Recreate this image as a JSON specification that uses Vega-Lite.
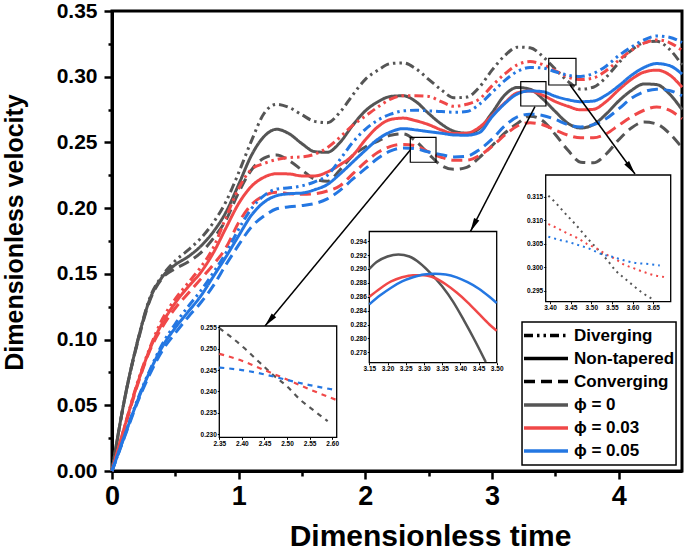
{
  "$schema": "https://vega.github.io/schema/vega-lite/v6.json",
  "width": 570,
  "height": 460,
  "autosize": {"type": "none"},
  "padding": {"left": 112, "top": 11, "right": 3, "bottom": 80},
  "background": "white",
  "config": {
    "view": {"stroke": "black", "strokeWidth": 3},
    "font": "Liberation Sans",
    "axis": {"grid": false, "labelFont": "Liberation Sans", "titleFont": "Liberation Sans", "labelColor": "black", "titleColor": "black", "tickColor": "black", "domainColor": "black"}
  },
  "datasets": {
    "main": [
      {"t":0.0,"D0":0,"N0":0,"C0":0,"D3":0,"N3":0,"C3":0,"D5":0,"N5":0,"C5":0},
      {"t":0.1,"D0":0.055,"N0":0.055,"C0":0.055,"D3":0.034,"N3":0.034,"C3":0.033,"D5":0.027,"N5":0.027,"C5":0.026},
      {"t":0.2,"D0":0.098,"N0":0.098,"C0":0.097,"D3":0.067,"N3":0.066,"C3":0.065,"D5":0.054,"N5":0.053,"C5":0.052},
      {"t":0.3,"D0":0.132,"N0":0.131,"C0":0.130,"D3":0.094,"N3":0.093,"C3":0.092,"D5":0.077,"N5":0.076,"C5":0.074},
      {"t":0.4,"D0":0.149,"N0":0.148,"C0":0.147,"D3":0.116,"N3":0.113,"C3":0.110,"D5":0.097,"N5":0.095,"C5":0.092},
      {"t":0.5,"D0":0.160,"N0":0.157,"C0":0.154,"D3":0.131,"N3":0.128,"C3":0.124,"D5":0.112,"N5":0.109,"C5":0.105},
      {"t":0.6,"D0":0.168,"N0":0.163,"C0":0.159,"D3":0.143,"N3":0.140,"C3":0.135,"D5":0.125,"N5":0.121,"C5":0.117},
      {"t":0.7,"D0":0.177,"N0":0.171,"C0":0.166,"D3":0.155,"N3":0.151,"C3":0.146,"D5":0.137,"N5":0.133,"C5":0.128},
      {"t":0.8,"D0":0.189,"N0":0.182,"C0":0.177,"D3":0.170,"N3":0.166,"C3":0.157,"D5":0.151,"N5":0.148,"C5":0.141},
      {"t":0.9,"D0":0.205,"N0":0.197,"C0":0.191,"D3":0.193,"N3":0.185,"C3":0.170,"D5":0.166,"N5":0.163,"C5":0.157},
      {"t":1.0,"D0":0.227,"N0":0.218,"C0":0.212,"D3":0.215,"N3":0.2035,"C3":0.189,"D5":0.184,"N5":0.179,"C5":0.172},
      {"t":1.1,"D0":0.251,"N0":0.240,"C0":0.229,"D3":0.2295,"N3":0.2165,"C3":0.2025,"D5":0.1995,"N5":0.1945,"C5":0.1857},
      {"t":1.2,"D0":0.272,"N0":0.2545,"C0":0.238,"D3":0.234,"N3":0.2235,"C3":0.2095,"D5":0.2095,"N5":0.2045,"C5":0.194},
      {"t":1.3,"D0":0.279,"N0":0.260,"C0":0.2405,"D3":0.237,"N3":0.2262,"C3":0.212,"D5":0.2145,"N5":0.2095,"C5":0.1995},
      {"t":1.4,"D0":0.2765,"N0":0.2565,"C0":0.236,"D3":0.2385,"N3":0.226,"C3":0.211,"D5":0.2155,"N5":0.211,"C5":0.201},
      {"t":1.5,"D0":0.271,"N0":0.249,"C0":0.229,"D3":0.239,"N3":0.2245,"C3":0.2105,"D5":0.217,"N5":0.2115,"C5":0.202},
      {"t":1.6,"D0":0.266,"N0":0.243,"C0":0.222,"D3":0.241,"N3":0.2245,"C3":0.211,"D5":0.220,"N5":0.214,"C5":0.2035},
      {"t":1.7,"D0":0.265,"N0":0.2425,"C0":0.2205,"D3":0.246,"N3":0.2275,"C3":0.213,"D5":0.225,"N5":0.218,"C5":0.207},
      {"t":1.8,"D0":0.273,"N0":0.250,"C0":0.229,"D3":0.254,"N3":0.233,"C3":0.217,"D5":0.237,"N5":0.226,"C5":0.2135},
      {"t":1.9,"D0":0.286,"N0":0.263,"C0":0.240,"D3":0.263,"N3":0.240,"C3":0.226,"D5":0.250,"N5":0.235,"C5":0.222},
      {"t":2.0,"D0":0.298,"N0":0.274,"C0":0.2465,"D3":0.270,"N3":0.252,"C3":0.235,"D5":0.260,"N5":0.244,"C5":0.230},
      {"t":2.1,"D0":0.305,"N0":0.281,"C0":0.251,"D3":0.277,"N3":0.262,"C3":0.2425,"D5":0.267,"N5":0.2525,"C5":0.238},
      {"t":2.2,"D0":0.310,"N0":0.285,"C0":0.2555,"D3":0.283,"N3":0.2675,"C3":0.247,"D5":0.2715,"N5":0.258,"C5":0.2435},
      {"t":2.3,"D0":0.3105,"N0":0.2855,"C0":0.2565,"D3":0.2855,"N3":0.2685,"C3":0.2485,"D5":0.274,"N5":0.2605,"C5":0.2458},
      {"t":2.4,"D0":0.306,"N0":0.281,"C0":0.2509,"D3":0.2855,"N3":0.2665,"C3":0.2474,"D5":0.2745,"N5":0.2595,"C5":0.2451},
      {"t":2.5,"D0":0.298,"N0":0.272,"C0":0.2412,"D3":0.285,"N3":0.2635,"C3":0.2428,"D5":0.274,"N5":0.2582,"C5":0.2427},
      {"t":2.6,"D0":0.290,"N0":0.264,"C0":0.2325,"D3":0.281,"N3":0.2595,"C3":0.2387,"D5":0.2735,"N5":0.257,"C5":0.2407},
      {"t":2.7,"D0":0.284,"N0":0.2585,"C0":0.2295,"D3":0.2775,"N3":0.2568,"C3":0.2365,"D5":0.273,"N5":0.2557,"C5":0.239},
      {"t":2.8,"D0":0.2845,"N0":0.257,"C0":0.231,"D3":0.279,"N3":0.257,"C3":0.2365,"D5":0.2735,"N5":0.2555,"C5":0.2395},
      {"t":2.9,"D0":0.292,"N0":0.2605,"C0":0.2385,"D3":0.283,"N3":0.2615,"C3":0.240,"D5":0.279,"N5":0.2575,"C5":0.2445},
      {"t":3.0,"D0":0.305,"N0":0.2725,"C0":0.2475,"D3":0.293,"N3":0.2705,"C3":0.247,"D5":0.288,"N5":0.2695,"C5":0.2525},
      {"t":3.1,"D0":0.316,"N0":0.286,"C0":0.257,"D3":0.302,"N3":0.280,"C3":0.2555,"D5":0.297,"N5":0.2795,"C5":0.2625},
      {"t":3.2,"D0":0.3225,"N0":0.2918,"C0":0.2645,"D3":0.309,"N3":0.2877,"C3":0.2625,"D5":0.304,"N5":0.2869,"C5":0.2695},
      {"t":3.3,"D0":0.322,"N0":0.2905,"C0":0.270,"D3":0.3115,"N3":0.2891,"C3":0.265,"D5":0.307,"N5":0.2892,"C5":0.2715},
      {"t":3.4,"D0":0.3155,"N0":0.2832,"C0":0.2665,"D3":0.3093,"N3":0.2860,"C3":0.2635,"D5":0.3066,"N5":0.2886,"C5":0.2705},
      {"t":3.5,"D0":0.3058,"N0":0.2735,"C0":0.256,"D3":0.3045,"N3":0.2811,"C3":0.2595,"D5":0.3038,"N5":0.2851,"C5":0.2675},
      {"t":3.6,"D0":0.2965,"N0":0.2645,"C0":0.244,"D3":0.2998,"N3":0.2775,"C3":0.2555,"D5":0.3011,"N5":0.2825,"C5":0.2635},
      {"t":3.7,"D0":0.2905,"N0":0.261,"C0":0.235,"D3":0.2978,"N3":0.2748,"C3":0.2535,"D5":0.3002,"N5":0.281,"C5":0.2618},
      {"t":3.8,"D0":0.2920,"N0":0.2635,"C0":0.2345,"D3":0.2990,"N3":0.2752,"C3":0.2535,"D5":0.3025,"N5":0.2815,"C5":0.2635},
      {"t":3.9,"D0":0.2995,"N0":0.2715,"C0":0.241,"D3":0.3045,"N3":0.281,"C3":0.2565,"D5":0.308,"N5":0.286,"C5":0.268},
      {"t":4.0,"D0":0.3105,"N0":0.2815,"C0":0.252,"D3":0.3125,"N3":0.290,"C3":0.263,"D5":0.316,"N5":0.293,"C5":0.2755},
      {"t":4.1,"D0":0.320,"N0":0.2895,"C0":0.261,"D3":0.320,"N3":0.298,"C3":0.2695,"D5":0.3225,"N5":0.301,"C5":0.2835},
      {"t":4.2,"D0":0.326,"N0":0.2945,"C0":0.2655,"D3":0.3255,"N3":0.3035,"C3":0.2745,"D5":0.328,"N5":0.307,"C5":0.2885},
      {"t":4.3,"D0":0.327,"N0":0.2940,"C0":0.264,"D3":0.328,"N3":0.305,"C3":0.277,"D5":0.331,"N5":0.310,"C5":0.2905},
      {"t":4.4,"D0":0.321,"N0":0.2870,"C0":0.257,"D3":0.326,"N3":0.3015,"C3":0.2745,"D5":0.330,"N5":0.3085,"C5":0.2895},
      {"t":4.5,"D0":0.309,"N0":0.275,"C0":0.246,"D3":0.320,"N3":0.292,"C3":0.268,"D5":0.326,"N5":0.302,"C5":0.2855}
    ],
    "in1": [
      {"t":2.35,"phi":"ϕ = 0","v":0.2548},{"t":2.38,"phi":"ϕ = 0","v":0.2524},{"t":2.41,"phi":"ϕ = 0","v":0.2497},{"t":2.44,"phi":"ϕ = 0","v":0.2467},{"t":2.47,"phi":"ϕ = 0","v":0.2438},{"t":2.50,"phi":"ϕ = 0","v":0.2412},{"t":2.53,"phi":"ϕ = 0","v":0.2380},{"t":2.56,"phi":"ϕ = 0","v":0.2355},{"t":2.59,"phi":"ϕ = 0","v":0.2331},
      {"t":2.35,"phi":"ϕ = 0.03","v":0.2488},{"t":2.40,"phi":"ϕ = 0.03","v":0.2472},{"t":2.45,"phi":"ϕ = 0.03","v":0.2450},{"t":2.50,"phi":"ϕ = 0.03","v":0.2428},{"t":2.55,"phi":"ϕ = 0.03","v":0.2405},{"t":2.61,"phi":"ϕ = 0.03","v":0.2380},
      {"t":2.35,"phi":"ϕ = 0.05","v":0.2456},{"t":2.40,"phi":"ϕ = 0.05","v":0.2450},{"t":2.45,"phi":"ϕ = 0.05","v":0.2440},{"t":2.50,"phi":"ϕ = 0.05","v":0.2427},{"t":2.55,"phi":"ϕ = 0.05","v":0.2415},{"t":2.61,"phi":"ϕ = 0.05","v":0.2403}
    ],
    "in2": [
      {"t":3.15,"phi":"ϕ = 0","v":0.2900},{"t":3.17,"phi":"ϕ = 0","v":0.2910},{"t":3.20,"phi":"ϕ = 0","v":0.2918},{"t":3.23,"phi":"ϕ = 0","v":0.2921},{"t":3.26,"phi":"ϕ = 0","v":0.2918},{"t":3.29,"phi":"ϕ = 0","v":0.2908},{"t":3.32,"phi":"ϕ = 0","v":0.2893},{"t":3.35,"phi":"ϕ = 0","v":0.2875},{"t":3.38,"phi":"ϕ = 0","v":0.2853},{"t":3.41,"phi":"ϕ = 0","v":0.2826},{"t":3.44,"phi":"ϕ = 0","v":0.2797},{"t":3.47,"phi":"ϕ = 0","v":0.2766},
      {"t":3.15,"phi":"ϕ = 0.03","v":0.2860},{"t":3.18,"phi":"ϕ = 0.03","v":0.2872},{"t":3.21,"phi":"ϕ = 0.03","v":0.2882},{"t":3.24,"phi":"ϕ = 0.03","v":0.2888},{"t":3.27,"phi":"ϕ = 0.03","v":0.2891},{"t":3.30,"phi":"ϕ = 0.03","v":0.2891},{"t":3.33,"phi":"ϕ = 0.03","v":0.2887},{"t":3.36,"phi":"ϕ = 0.03","v":0.2878},{"t":3.39,"phi":"ϕ = 0.03","v":0.2866},{"t":3.42,"phi":"ϕ = 0.03","v":0.2852},{"t":3.45,"phi":"ϕ = 0.03","v":0.2836},{"t":3.48,"phi":"ϕ = 0.03","v":0.2820},{"t":3.50,"phi":"ϕ = 0.03","v":0.2811},
      {"t":3.15,"phi":"ϕ = 0.05","v":0.2849},{"t":3.18,"phi":"ϕ = 0.05","v":0.2862},{"t":3.21,"phi":"ϕ = 0.05","v":0.2873},{"t":3.24,"phi":"ϕ = 0.05","v":0.2882},{"t":3.27,"phi":"ϕ = 0.05","v":0.2888},{"t":3.30,"phi":"ϕ = 0.05","v":0.2892},{"t":3.33,"phi":"ϕ = 0.05","v":0.2893},{"t":3.36,"phi":"ϕ = 0.05","v":0.2892},{"t":3.39,"phi":"ϕ = 0.05","v":0.2888},{"t":3.42,"phi":"ϕ = 0.05","v":0.2881},{"t":3.45,"phi":"ϕ = 0.05","v":0.2872},{"t":3.48,"phi":"ϕ = 0.05","v":0.2860},{"t":3.50,"phi":"ϕ = 0.05","v":0.2851}
    ],
    "in3": [
      {"t":3.396,"phi":"ϕ = 0","v":0.3152},{"t":3.415,"phi":"ϕ = 0","v":0.3136},{"t":3.431,"phi":"ϕ = 0","v":0.3120},{"t":3.448,"phi":"ϕ = 0","v":0.3104},{"t":3.469,"phi":"ϕ = 0","v":0.3084},{"t":3.485,"phi":"ϕ = 0","v":0.3067},{"t":3.505,"phi":"ϕ = 0","v":0.3048},{"t":3.540,"phi":"ϕ = 0","v":0.3014},{"t":3.558,"phi":"ϕ = 0","v":0.2994},{"t":3.580,"phi":"ϕ = 0","v":0.2977},{"t":3.598,"phi":"ϕ = 0","v":0.2964},{"t":3.622,"phi":"ϕ = 0","v":0.2947},{"t":3.646,"phi":"ϕ = 0","v":0.2934},
      {"t":3.396,"phi":"ϕ = 0.03","v":0.3092},{"t":3.420,"phi":"ϕ = 0.03","v":0.3082},{"t":3.444,"phi":"ϕ = 0.03","v":0.3071},{"t":3.469,"phi":"ϕ = 0.03","v":0.3061},{"t":3.489,"phi":"ϕ = 0.03","v":0.3050},{"t":3.513,"phi":"ϕ = 0.03","v":0.3040},{"t":3.537,"phi":"ϕ = 0.03","v":0.3027},{"t":3.558,"phi":"ϕ = 0.03","v":0.3018},{"t":3.577,"phi":"ϕ = 0.03","v":0.3007},{"t":3.606,"phi":"ϕ = 0.03","v":0.2997},{"t":3.634,"phi":"ϕ = 0.03","v":0.2988},{"t":3.658,"phi":"ϕ = 0.03","v":0.2982},{"t":3.686,"phi":"ϕ = 0.03","v":0.2979},
      {"t":3.396,"phi":"ϕ = 0.05","v":0.3065},{"t":3.424,"phi":"ϕ = 0.05","v":0.3058},{"t":3.448,"phi":"ϕ = 0.05","v":0.3053},{"t":3.473,"phi":"ϕ = 0.05","v":0.3046},{"t":3.497,"phi":"ϕ = 0.05","v":0.3039},{"t":3.525,"phi":"ϕ = 0.05","v":0.3028},{"t":3.553,"phi":"ϕ = 0.05","v":0.3022},{"t":3.582,"phi":"ϕ = 0.05","v":0.3014},{"t":3.610,"phi":"ϕ = 0.05","v":0.3009},{"t":3.638,"phi":"ϕ = 0.05","v":0.3007},{"t":3.666,"phi":"ϕ = 0.05","v":0.3004}
    ]
  },
  "layer": [
    {
      "data": {"name": "main"},
      "transform": [
        {"fold": ["D0","N0","C0","D3","N3","C3","D5","N5","C5"], "as": ["key","v"]},
        {"lookup": "key", "from": {"data": {"values": [
          {"key":"D0","phi":"ϕ = 0","geom":"Diverging"},
          {"key":"N0","phi":"ϕ = 0","geom":"Non-tapered"},
          {"key":"C0","phi":"ϕ = 0","geom":"Converging"},
          {"key":"D3","phi":"ϕ = 0.03","geom":"Diverging"},
          {"key":"N3","phi":"ϕ = 0.03","geom":"Non-tapered"},
          {"key":"C3","phi":"ϕ = 0.03","geom":"Converging"},
          {"key":"D5","phi":"ϕ = 0.05","geom":"Diverging"},
          {"key":"N5","phi":"ϕ = 0.05","geom":"Non-tapered"},
          {"key":"C5","phi":"ϕ = 0.05","geom":"Converging"}
        ]}, "key": "key", "fields": ["phi","geom"]}}
      ],
      "mark": {"type": "line", "strokeWidth": 3, "interpolate": "monotone"},
      "encoding": {
        "x": {"field": "t", "type": "quantitative",
          "scale": {"domain": [0, 4.5], "nice": false, "zero": false},
          "axis": {"orient": "bottom", "values": [0,1,2,3,4], "format": "d", "labelFontSize": 27, "labelFontWeight": "bold", "labelPadding": 4, "labelFlush": false, "labelOverlap": false, "tickSize": 8, "tickWidth": 2.5, "domainWidth": 3,
            "title": "Dimensionless time", "titleFontSize": 30, "titleFontWeight": "bold", "titleX": 318, "titleY": 74, "titleBaseline": "alphabetic", "titleAlign": "center"}},
        "y": {"field": "v", "type": "quantitative",
          "scale": {"domain": [0, 0.35], "nice": false, "zero": false},
          "axis": {"orient": "left", "values": [0,0.05,0.1,0.15,0.2,0.25,0.3,0.35], "format": ".2f", "labelFontSize": 21, "labelFontWeight": "bold", "labelPadding": 7, "labelFlush": false, "labelOverlap": false, "tickSize": 8, "tickWidth": 2.5, "domainWidth": 3,
            "title": "Dimensionless velocity", "titleFontSize": 25, "titleFontWeight": "bold", "titleX": -90, "titleY": 221, "titleBaseline": "alphabetic", "titleAlign": "center", "titleAngle": -90}},
        "color": {"field": "phi", "type": "nominal",
          "scale": {"domain": ["ϕ = 0","ϕ = 0.03","ϕ = 0.05"], "range": ["#555555","#f04848","#2477e2"]},
          "legend": {"title": null, "orient": "none", "legendX": 410, "legendY": 382.5, "symbolType": "stroke", "symbolSize": 1936, "symbolStrokeWidth": 3.5, "labelFontSize": 17, "labelFontWeight": "bold", "labelColor": "black", "labelOffset": 4, "clipHeight": 23, "rowPadding": 0, "padding": 0}},
        "strokeDash": {"field": "geom", "type": "nominal",
          "scale": {"domain": ["Diverging","Non-tapered","Converging"], "range": [[9,4,2.5,4,2.5,4],[1,0],[11,6]]},
          "legend": {"title": null, "orient": "none", "legendX": 410, "legendY": 313, "symbolType": "stroke", "symbolSize": 1936, "symbolStrokeWidth": 3.5, "symbolStrokeColor": "black", "labelFontSize": 17, "labelFontWeight": "bold", "labelColor": "black", "labelOffset": 4, "clipHeight": 23, "rowPadding": 0, "padding": 0}}
      }
    },
    {
      "data": {"values": [{"x1": 3.237, "x2": 4.453, "y1": 0.0046, "y2": 0.1134}]},
      "mark": {"type": "rect", "fill": "white", "stroke": "black", "strokeWidth": 1.5},
      "encoding": {
        "x": {"field": "x1", "type": "quantitative", "scale": {"domain": [0, 4.5], "nice": false, "zero": false}, "axis": null},
        "x2": {"field": "x2"},
        "y": {"field": "y1", "type": "quantitative", "scale": {"domain": [0, 0.35], "nice": false, "zero": false}, "axis": null},
        "y2": {"field": "y2"}
      }
    },
    {
      "data": {"values": [
        {"x1": 2.355, "x2": 2.558, "y1": 0.2349, "y2": 0.2539},
        {"x1": 3.227, "x2": 3.426, "y1": 0.2777, "y2": 0.2962},
        {"x1": 3.448, "x2": 3.663, "y1": 0.2937, "y2": 0.3140}
      ]},
      "mark": {"type": "rect", "fillOpacity": 0, "stroke": "black", "strokeWidth": 1.2},
      "encoding": {
        "x": {"field": "x1", "type": "quantitative", "scale": {"domain": [0, 4.5], "nice": false, "zero": false},
          "axis": {"orient": "bottom", "values": [0.5,1.5,2.5,3.5], "labels": false, "domain": false, "tickSize": 5, "tickWidth": 2.5, "title": null}},
        "x2": {"field": "x2"},
        "y": {"field": "y1", "type": "quantitative", "scale": {"domain": [0, 0.35], "nice": false, "zero": false},
          "axis": {"orient": "left", "values": [0.025,0.075,0.125,0.175,0.225,0.275,0.325], "labels": false, "domain": false, "tickSize": 4, "tickWidth": 2.5, "title": null}},
        "y2": {"field": "y2"}
      }
    },
    {
      "data": {"values": [
        {"x1": 2.355, "y1": 0.2442, "x2": 1.208, "y2": 0.1103},
        {"x1": 3.339, "y1": 0.2772, "x2": 2.829, "y2": 0.1821},
        {"x1": 3.616, "y1": 0.2937, "x2": 4.129, "y2": 0.2260}
      ]},
      "mark": {"type": "rule", "stroke": "black", "strokeWidth": 1.5},
      "encoding": {
        "x": {"field": "x1", "type": "quantitative", "scale": {"domain": [0, 4.5], "nice": false, "zero": false}, "axis": null},
        "x2": {"field": "x2"},
        "y": {"field": "y1", "type": "quantitative", "scale": {"domain": [0, 0.35], "nice": false, "zero": false}, "axis": null},
        "y2": {"field": "y2"}
      }
    },
    {
      "data": {"values": [{"x": 1.243, "y": 0.1144}]},
      "mark": {"type": "point", "shape": "M0,-1L0.42,1L-0.42,1Z", "filled": true, "color": "black", "opacity": 1, "size": 196, "angle": 220},
      "encoding": {
        "x": {"field": "x", "type": "quantitative", "scale": {"domain": [0, 4.5], "nice": false, "zero": false}, "axis": null},
        "y": {"field": "y", "type": "quantitative", "scale": {"domain": [0, 0.35], "nice": false, "zero": false}, "axis": null}
      }
    },
    {
      "data": {"values": [{"x": 2.854, "y": 0.1868}]},
      "mark": {"type": "point", "shape": "M0,-1L0.42,1L-0.42,1Z", "filled": true, "color": "black", "opacity": 1, "size": 196, "angle": 207},
      "encoding": {
        "x": {"field": "x", "type": "quantitative", "scale": {"domain": [0, 4.5], "nice": false, "zero": false}, "axis": null},
        "y": {"field": "y", "type": "quantitative", "scale": {"domain": [0, 0.35], "nice": false, "zero": false}, "axis": null}
      }
    },
    {
      "data": {"values": [{"x": 4.096, "y": 0.2303}]},
      "mark": {"type": "point", "shape": "M0,-1L0.42,1L-0.42,1Z", "filled": true, "color": "black", "opacity": 1, "size": 196, "angle": 144},
      "encoding": {
        "x": {"field": "x", "type": "quantitative", "scale": {"domain": [0, 4.5], "nice": false, "zero": false}, "axis": null},
        "y": {"field": "y", "type": "quantitative", "scale": {"domain": [0, 0.35], "nice": false, "zero": false}, "axis": null}
      }
    },
    {
      "data": {"values": [{"x1": 2.35, "x2": 2.61, "y1": 0.2293, "y2": 0.2553}]},
      "mark": {"type": "rect", "fill": "white", "stroke": "black", "strokeWidth": 1.3},
      "encoding": {
        "x": {"field": "x1", "type": "quantitative", "scale": {"domain": [2.35, 2.61], "range": [107.3, 224.7], "nice": false, "zero": false}, "axis": null},
        "x2": {"field": "x2"},
        "y": {"field": "y1", "type": "quantitative", "scale": {"domain": [0.2293, 0.2553], "range": [426.3, 315], "nice": false, "zero": false}, "axis": null},
        "y2": {"field": "y2"}
      }
    },
    {
      "data": {"name": "in1"},
      "mark": {"type": "line", "strokeWidth": 2.2, "strokeDash": [5, 5], "interpolate": "monotone"},
      "encoding": {
        "x": {"field": "t", "type": "quantitative", "scale": {"domain": [2.35, 2.61], "range": [107.3, 224.7], "nice": false, "zero": false},
          "axis": {"orient": "bottom", "offset": -33.7, "values": [2.35,2.4,2.45,2.5,2.55,2.6], "format": ".2f", "labelFontSize": 6.5, "labelFontWeight": "bold", "labelPadding": 1, "labelFlush": false, "labelOverlap": false, "tickSize": 2, "domain": false, "title": null, "zindex": 1}},
        "y": {"field": "v", "type": "quantitative", "scale": {"domain": [0.2293, 0.2553], "range": [426.3, 315], "nice": false, "zero": false},
          "axis": {"orient": "left", "offset": -107.3, "values": [0.23,0.235,0.24,0.245,0.25,0.255], "format": ".3f", "labelFontSize": 6.5, "labelFontWeight": "bold", "labelPadding": 1, "labelFlush": false, "labelOverlap": false, "tickSize": 2, "domain": false, "title": null, "zindex": 1}},
        "color": {"field": "phi", "type": "nominal", "scale": {"domain": ["ϕ = 0","ϕ = 0.03","ϕ = 0.05"], "range": ["#555555","#f04848","#2477e2"]}, "legend": null}
      }
    },
    {
      "data": {"values": [{"x1": 3.15, "x2": 3.5, "y1": 0.2765, "y2": 0.2954}]},
      "mark": {"type": "rect", "fill": "white", "stroke": "black", "strokeWidth": 1.3},
      "encoding": {
        "x": {"field": "x1", "type": "quantitative", "scale": {"domain": [3.15, 3.5], "range": [257.3, 384.7], "nice": false, "zero": false}, "axis": null},
        "x2": {"field": "x2"},
        "y": {"field": "y1", "type": "quantitative", "scale": {"domain": [0.2765, 0.2954], "range": [351.7, 220.5], "nice": false, "zero": false}, "axis": null},
        "y2": {"field": "y2"}
      }
    },
    {
      "data": {"name": "in2"},
      "mark": {"type": "line", "strokeWidth": 2.5, "interpolate": "monotone"},
      "encoding": {
        "x": {"field": "t", "type": "quantitative", "scale": {"domain": [3.15, 3.5], "range": [257.3, 384.7], "nice": false, "zero": false},
          "axis": {"orient": "bottom", "offset": -108.3, "values": [3.15,3.2,3.25,3.3,3.35,3.4,3.45,3.5], "format": ".2f", "labelFontSize": 6.5, "labelFontWeight": "bold", "labelPadding": 1, "labelFlush": false, "labelOverlap": false, "tickSize": 2, "domain": false, "title": null, "zindex": 1}},
        "y": {"field": "v", "type": "quantitative", "scale": {"domain": [0.2765, 0.2954], "range": [351.7, 220.5], "nice": false, "zero": false},
          "axis": {"orient": "left", "offset": -257.3, "values": [0.278,0.28,0.282,0.284,0.286,0.288,0.29,0.292,0.294], "format": ".3f", "labelFontSize": 6.5, "labelFontWeight": "bold", "labelPadding": 1, "labelFlush": false, "labelOverlap": false, "tickSize": 2, "domain": false, "title": null, "zindex": 1}},
        "color": {"field": "phi", "type": "nominal", "scale": {"domain": ["ϕ = 0","ϕ = 0.03","ϕ = 0.05"], "range": ["#555555","#f04848","#2477e2"]}, "legend": null}
      }
    },
    {
      "data": {"values": [{"x1": 3.3896, "x2": 3.6925, "y1": 0.2927, "y2": 0.3196}]},
      "mark": {"type": "rect", "fill": "white", "stroke": "black", "strokeWidth": 1.3},
      "encoding": {
        "x": {"field": "x1", "type": "quantitative", "scale": {"domain": [3.3896, 3.6925], "range": [433.7, 558.7], "nice": false, "zero": false}, "axis": null},
        "x2": {"field": "x2"},
        "y": {"field": "y1", "type": "quantitative", "scale": {"domain": [0.2927, 0.3196], "range": [290.7, 164], "nice": false, "zero": false}, "axis": null},
        "y2": {"field": "y2"}
      }
    },
    {
      "data": {"name": "in3"},
      "mark": {"type": "line", "strokeWidth": 2, "strokeDash": [2, 4], "interpolate": "monotone"},
      "encoding": {
        "x": {"field": "t", "type": "quantitative", "scale": {"domain": [3.3896, 3.6925], "range": [433.7, 558.7], "nice": false, "zero": false},
          "axis": {"orient": "bottom", "offset": -169.3, "values": [3.4,3.45,3.5,3.55,3.6,3.65], "format": ".2f", "labelFontSize": 6.5, "labelFontWeight": "bold", "labelPadding": 1, "labelFlush": false, "labelOverlap": false, "tickSize": 2, "domain": false, "title": null, "zindex": 1}},
        "y": {"field": "v", "type": "quantitative", "scale": {"domain": [0.2927, 0.3196], "range": [290.7, 164], "nice": false, "zero": false},
          "axis": {"orient": "left", "offset": -433.7, "values": [0.295,0.3,0.305,0.31,0.315], "format": ".3f", "labelFontSize": 6.5, "labelFontWeight": "bold", "labelPadding": 1, "labelFlush": false, "labelOverlap": false, "tickSize": 2, "domain": false, "title": null, "zindex": 1}},
        "color": {"field": "phi", "type": "nominal", "scale": {"domain": ["ϕ = 0","ϕ = 0.03","ϕ = 0.05"], "range": ["#555555","#f04848","#2477e2"]}, "legend": null}
      }
    }
  ],
  "resolve": {"scale": {"x": "independent", "y": "independent"}, "axis": {"x": "independent", "y": "independent"}}
}
